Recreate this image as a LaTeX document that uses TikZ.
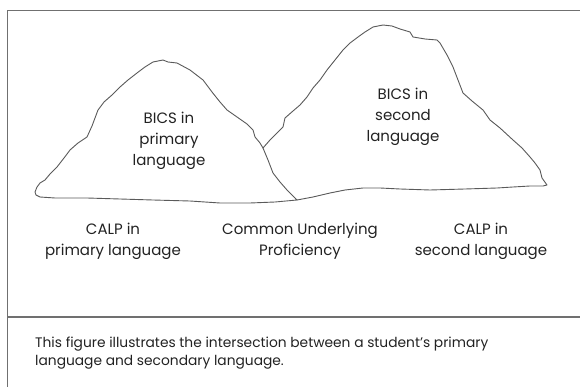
\documentclass[tikz,border=0pt]{standalone}
\usepackage{fontspec}
\setmainfont{Poppins}
\definecolor{framegray}{HTML}{707070}
\definecolor{outlinegray}{HTML}{5A5A5A}
\definecolor{txt}{HTML}{222222}
\begin{document}
\begin{tikzpicture}[x=1pt,y=-1pt,
  framestyle/.style={draw=framegray, line width=1.2pt},
  outline/.style={draw=outlinegray, line width=0.9pt, line join=round, line cap=round},
  lbl/.style={align=center, text=txt, font=\fontsize{15}{21}\selectfont, inner sep=0pt},
  caption/.style={align=left, text=txt, font=\fontsize{13.8}{18}\selectfont, inner sep=0pt, anchor=west}]
\useasboundingbox (0,0) rectangle (580,387);
% frame
\coordinate (ftl) at (7.5,10.5);
\coordinate (ftr) at (580,10.5);
\coordinate (fbl) at (7.5,387);
\coordinate (dl) at (7.5,317);
\coordinate (dr) at (580,317);
\draw[framestyle] (fbl) -- (ftl) -- (ftr);
\draw[framestyle] (dl) -- (dr);
% junctions
\coordinate (I) at (263,148);
\coordinate (J) at (297,200);
% left mountain
\draw[outline] (J) -- (275,202) -- (250,203) -- (220,203) -- (190,201) -- (153,200) -- (120,199) -- (87,198) -- (55,198) -- (40,197) -- (36,195) -- (35,192) -- (37,187) -- (40,183) -- (45,180) -- (50,174) -- (57,167) -- (64,158) -- (70,150) -- (78,143) -- (87,137) -- (92,126) -- (98,110) -- (104,102) -- (112,95) -- (120,87) -- (128,80) -- (137,73) -- (145,67) -- (153,62) -- (158,61) -- (163,60) -- (168,62) -- (177,63) -- (190,70) -- (203,80) -- (212,92) -- (220,102) -- (227,110) -- (237,117) -- (247,124) -- (253,130) -- (255,137) -- (260,143) -- (I) -- (268,160) -- (273,173) -- (280,182) -- (287,190) -- (293,196) -- (J);
% right mountain
\draw[outline] (I) -- (270,140) -- (278,132) -- (283,127) -- (285,118) -- (293,111) -- (300,105) -- (307,97) -- (313,88) -- (320,80) -- (327,70) -- (335,60) -- (343,50) -- (350,43) -- (358,37) -- (365,32) -- (373,27) -- (383,25) -- (392,26) -- (400,29) -- (410,32) -- (413,37) -- (425,39) -- (437,40) -- (440,43) -- (447,55) -- (453,67) -- (458,80) -- (463,93) -- (472,101) -- (483,110) -- (490,120) -- (500,128) -- (513,140) -- (522,148) -- (530,157) -- (535,163) -- (540,170) -- (542,178) -- (547,185) -- (543,186) -- (530,186) -- (513,187) -- (497,188) -- (465,189) -- (430,190) -- (400,189) -- (380,188) -- (363,188) -- (345,190) -- (330,193) -- (313,197) -- (J);
% labels
\node[lbl] (bicsp) at (169,141) {BICS in\\primary\\language};
\node[lbl] (bicss) at (403,117) {BICS in\\second\\language};
\node[lbl] (calpp) at (113,241) {CALP in\\primary language};
\node[lbl] (cup) at (300,241) {Common Underlying\\Proficiency};
\node[lbl] (calps) at (481,241) {CALP in\\second language};
\node[caption] (cap) at (35,353) {This figure illustrates the intersection between a student's primary\\language and secondary language.};
\end{tikzpicture}
\end{document}
